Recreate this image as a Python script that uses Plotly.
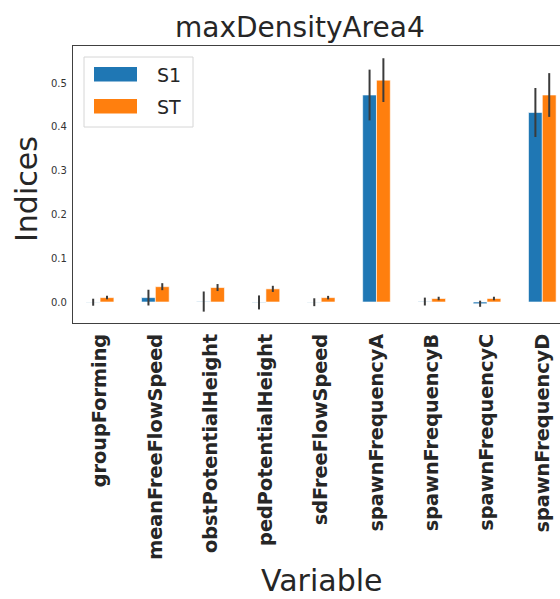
import plotly.graph_objects as go

variables = ["groupForming", "meanFreeFlowSpeed", "obstPotentialHeight", "pedPotentialHeight",
             "sdFreeFlowSpeed", "spawnFrequencyA", "spawnFrequencyB", "spawnFrequencyC", "spawnFrequencyD"]
s1 = [-0.0005, 0.010, 0.001, -0.001, -0.0005, 0.473, 0.001, -0.004, 0.433]
s1_err = [0.008, 0.018, 0.023, 0.016, 0.009, 0.058, 0.009, 0.007, 0.056]
st = [0.010, 0.035, 0.033, 0.030, 0.010, 0.507, 0.008, 0.008, 0.473]
st_err = [0.004, 0.008, 0.008, 0.007, 0.004, 0.050, 0.004, 0.004, 0.050]
y_ticks = [0.0, 0.1, 0.2, 0.3, 0.4, 0.5]
series_names = ["S1", "ST"]
series_colors = ["#1f77b4", "#ff7f0e"]

W, H = 560, 599
L, R, T, B = 73, 560, 46, 323
font = "DejaVu Sans"


def px(x):
    return (x - L) / (R - L)


def py(y):
    return (B - y) / (B - T)


fig = go.Figure()
for name, vals, errs, col in zip(series_names, [s1, st], [s1_err, st_err], series_colors):
    fig.add_trace(go.Bar(x=variables, y=vals, name=name,
                         marker=dict(color=col, line=dict(color="white", width=0.6)),
                         error_y=dict(type="data", array=errs, color="#3b3b3b", thickness=2, width=0)))

# manual legend (matplotlib-style wide patches)
shapes = []
x0, x1, y0, y1 = px(84), px(193), py(57), py(127)
shapes.append(dict(type="rect", xref="paper", yref="paper", x0=x0, x1=x1, y0=y1, y1=y0,
                   line=dict(color="#d6d6d6", width=1), fillcolor="rgba(255,255,255,0.85)", layer="above"))
annotations = []
for i, (name, col) in enumerate(zip(series_names, series_colors)):
    ytop = 67 + 32 * i
    shapes.append(dict(type="rect", xref="paper", yref="paper", x0=px(94), x1=px(137),
                       y0=py(ytop + 14.5), y1=py(ytop), line=dict(width=0), fillcolor=col, layer="above"))
    annotations.append(dict(text=name, xref="paper", yref="paper", x=px(155), y=py(ytop + 7.5),
                            xanchor="left", yanchor="middle", showarrow=False,
                            font=dict(size=19, family=font, color="#262626")))

annotations += [
    dict(text="maxDensityArea4", xref="paper", yref="paper", x=px(300), y=py(28),
         xanchor="center", yanchor="middle", showarrow=False, font=dict(size=28, family=font, color="#262626")),
    dict(text="Indices", xref="paper", yref="paper", x=px(26), y=py(189),
         xanchor="center", yanchor="middle", textangle=-90, showarrow=False,
         font=dict(size=30, family=font, color="#262626")),
    dict(text="Variable", xref="paper", yref="paper", x=px(321), y=py(580),
         xanchor="center", yanchor="middle", showarrow=False, font=dict(size=30, family=font, color="#262626")),
]

fig.update_layout(
    width=W, height=H,
    margin=dict(l=L, r=W - R, t=T, b=H - B, pad=0),
    plot_bgcolor="white", paper_bgcolor="white",
    barmode="group", bargap=0.5, bargroupgap=0,
    font=dict(family=font, color="#262626"),
    showlegend=False,
    xaxis=dict(range=[-0.49, 8.32], showline=True, linecolor="#404040", linewidth=1.2, mirror=True,
               ticks="outside", ticklen=2, tickcolor="white", tickangle=-90,
               tickfont=dict(size=19.3, family=font, color="#262626", weight="bold"),
               showgrid=False),
    yaxis=dict(range=[-0.048, 0.585], showline=True, linecolor="#404040", linewidth=1.2,
               tickvals=y_ticks, ticktext=[f"{v:.1f}" for v in y_ticks], ticks="outside", ticklen=3,
               tickcolor="white", tickfont=dict(size=10, color="#333333"), showgrid=False, zeroline=False),
    shapes=shapes,
    annotations=annotations,
)
fig.write_html("out.html")
